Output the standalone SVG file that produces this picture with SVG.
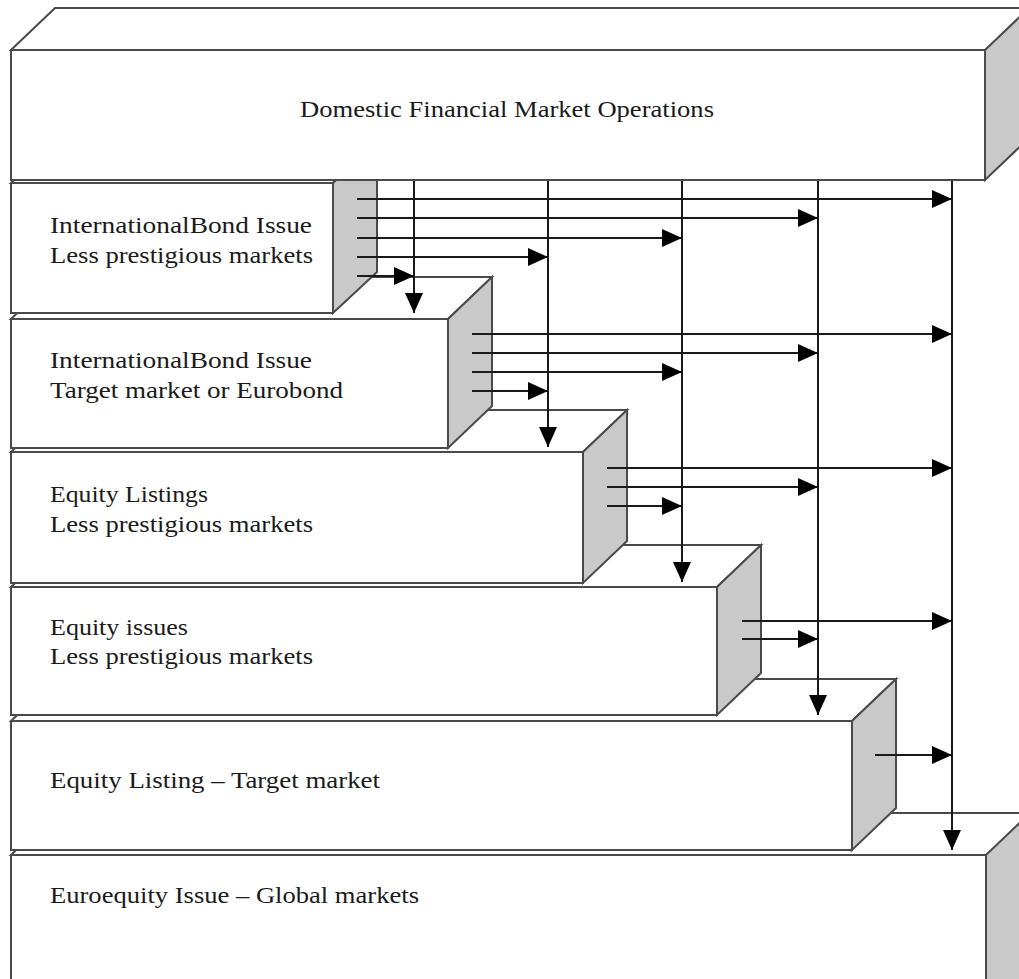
<svg xmlns="http://www.w3.org/2000/svg" width="1019" height="979" viewBox="0 0 1019 979">
<defs>
<style>
.top{fill:#ffffff;stroke:#4a4a4a;stroke-width:2;stroke-linejoin:miter}
.side{fill:#c9c9c9;stroke:#4a4a4a;stroke-width:2}
.front{fill:#ffffff;stroke:#4a4a4a;stroke-width:2}
.lbl{font-family:"Liberation Serif","Times New Roman",serif;font-size:24px;fill:#1a1a1a}
.conn{stroke:#1a1a1a;stroke-width:2;fill:none}
</style>
<marker id="ah" markerUnits="userSpaceOnUse" markerWidth="20" markerHeight="18" refX="20" refY="9" orient="auto">
<path d="M0,0 L20,9 L0,18 Z" fill="#000"/>
</marker>
</defs>
<rect x="0" y="0" width="1019" height="979" fill="#ffffff"/>

<g id="node-euroequity">
<polygon class="top" points="11,855 55,813 1040,813 986,855"/>
<polygon class="side" points="986,855 1030,813 1030,990 986,1000"/>
<rect class="front" x="11" y="855" width="975" height="150"/>
<text class="lbl" x="50" y="903" textLength="369" lengthAdjust="spacingAndGlyphs">Euroequity Issue – Global markets</text>
</g>

<g id="node-equity-listing-target">
<polygon class="top" points="11,721 55,679 896,679 852,721"/>
<polygon class="side" points="852,721 896,679 896,808 852,850"/>
<rect class="front" x="11" y="721" width="841" height="129"/>
<text class="lbl" x="50" y="788" textLength="330" lengthAdjust="spacingAndGlyphs">Equity Listing – Target market</text>
</g>

<g id="node-equity-issues">
<polygon class="top" points="11,587 55,545 761,545 717,587"/>
<polygon class="side" points="717,587 761,545 761,673 717,715"/>
<rect class="front" x="11" y="587" width="706" height="128"/>
<text class="lbl" x="50" y="635" textLength="138" lengthAdjust="spacingAndGlyphs">Equity issues</text>
<text class="lbl" x="50" y="664" textLength="263" lengthAdjust="spacingAndGlyphs">Less prestigious markets</text>
</g>

<g id="node-equity-listings">
<polygon class="top" points="11,452 55,410 627,410 583,452"/>
<polygon class="side" points="583,452 627,410 627,541 583,583"/>
<rect class="front" x="11" y="452" width="572" height="131"/>
<text class="lbl" x="50" y="502" textLength="158" lengthAdjust="spacingAndGlyphs">Equity Listings</text>
<text class="lbl" x="50" y="532" textLength="263" lengthAdjust="spacingAndGlyphs">Less prestigious markets</text>
</g>

<g id="node-bond-target">
<polygon class="top" points="11,319 55,277 492,277 448,319"/>
<polygon class="side" points="448,319 492,277 492,406 448,448"/>
<rect class="front" x="11" y="319" width="437" height="129"/>
<text class="lbl" x="50" y="368" textLength="262" lengthAdjust="spacingAndGlyphs">InternationalBond Issue</text>
<text class="lbl" x="50" y="398" textLength="293" lengthAdjust="spacingAndGlyphs">Target market or Eurobond</text>
</g>

<g id="node-bond-less">
<polygon class="top" points="11,183 55,141 377,141 333,183"/>
<polygon class="side" points="333,183 377,141 377,272 333,313"/>
<rect class="front" x="11" y="183" width="322" height="130"/>
<text class="lbl" x="50" y="233" textLength="262" lengthAdjust="spacingAndGlyphs">InternationalBond Issue</text>
<text class="lbl" x="50" y="263" textLength="263" lengthAdjust="spacingAndGlyphs">Less prestigious markets</text>
</g>

<g id="node-domestic">
<polygon class="top" points="11,50 55,8 1040,8 985,50"/>
<polygon class="side" points="985,50 1029,8 1029,138 985,180"/>
<rect class="front" x="11" y="50" width="974" height="130"/>
<text class="lbl" x="300" y="117" textLength="414" lengthAdjust="spacingAndGlyphs">Domestic Financial Market Operations</text>
</g>

<g id="connectors">
<line class="conn" x1="414" y1="181" x2="414" y2="313" marker-end="url(#ah)"/>
<line class="conn" x1="548" y1="181" x2="548" y2="447" marker-end="url(#ah)"/>
<line class="conn" x1="682" y1="181" x2="682" y2="582" marker-end="url(#ah)"/>
<line class="conn" x1="818" y1="181" x2="818" y2="715" marker-end="url(#ah)"/>
<line class="conn" x1="952" y1="181" x2="952" y2="850" marker-end="url(#ah)"/>

<line class="conn" x1="357" y1="199" x2="952" y2="199" marker-end="url(#ah)"/>
<line class="conn" x1="357" y1="218" x2="818" y2="218" marker-end="url(#ah)"/>
<line class="conn" x1="357" y1="238" x2="682" y2="238" marker-end="url(#ah)"/>
<line class="conn" x1="357" y1="257" x2="548" y2="257" marker-end="url(#ah)"/>
<line class="conn" x1="357" y1="276" x2="414" y2="276" marker-end="url(#ah)"/>

<line class="conn" x1="472" y1="334" x2="952" y2="334" marker-end="url(#ah)"/>
<line class="conn" x1="472" y1="353" x2="818" y2="353" marker-end="url(#ah)"/>
<line class="conn" x1="472" y1="372" x2="682" y2="372" marker-end="url(#ah)"/>
<line class="conn" x1="472" y1="391" x2="548" y2="391" marker-end="url(#ah)"/>

<line class="conn" x1="607" y1="468" x2="952" y2="468" marker-end="url(#ah)"/>
<line class="conn" x1="607" y1="487" x2="818" y2="487" marker-end="url(#ah)"/>
<line class="conn" x1="607" y1="506" x2="682" y2="506" marker-end="url(#ah)"/>

<line class="conn" x1="742" y1="621" x2="952" y2="621" marker-end="url(#ah)"/>
<line class="conn" x1="742" y1="639" x2="818" y2="639" marker-end="url(#ah)"/>

<line class="conn" x1="875" y1="755" x2="952" y2="755" marker-end="url(#ah)"/>
</g>
</svg>
